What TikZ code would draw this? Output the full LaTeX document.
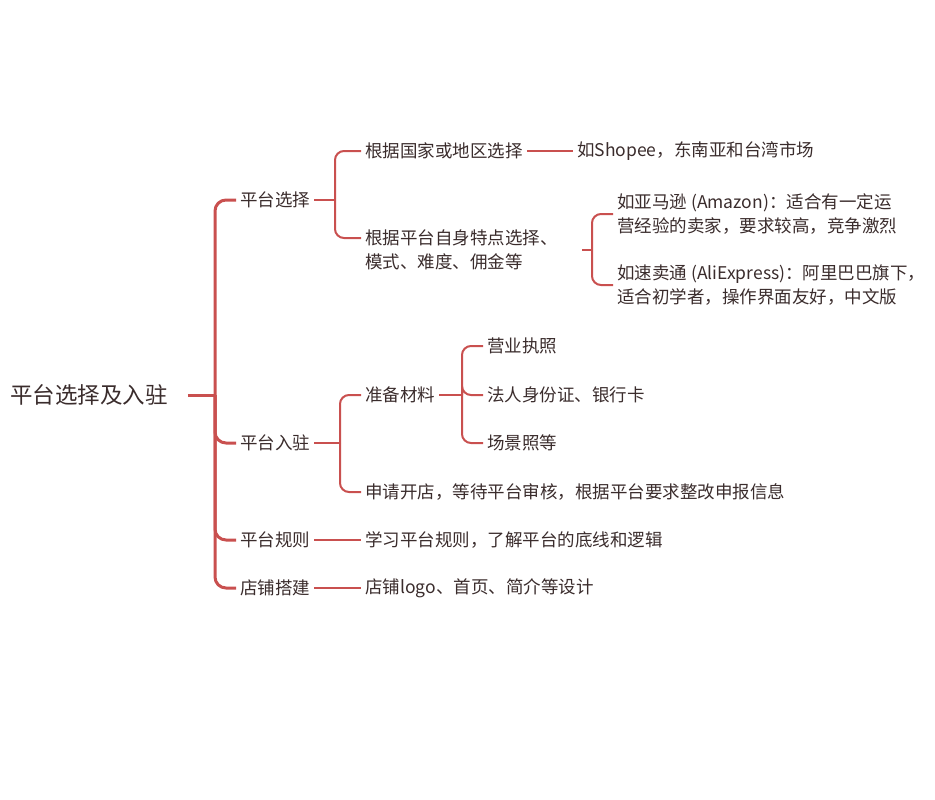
\documentclass[tikz,border=0pt]{standalone}
\usepackage{fontspec}
\setmainfont{Noto Sans CJK SC}
\usetikzlibrary{positioning}
\definecolor{linered}{HTML}{C9504F}
\definecolor{txt}{HTML}{3A2C2C}
\begin{document}
\begin{tikzpicture}[x=1pt, y=-1pt, font=\fontsize{17.5}{24}\selectfont, text=txt,
    item/.style={anchor=west, inner xsep=4pt, inner ysep=1pt, align=left},
    link/.style={draw=linered, line width=2pt, rounded corners=9pt},
    trunk/.style={draw=linered, line width=3pt, rounded corners=11pt}]
    \useasboundingbox (0,0) rectangle (935,800);
    % Root
    \node[anchor=west, inner sep=0pt, font=\fontsize{22.5}{24}\selectfont] (root) at (10,395) {平台选择及入驻};
    % Level 1
    \node[item] (xz) at (236,200) {平台选择};
    \node[item] (rz) at (236,443) {平台入驻};
    \node[item] (gz) at (236,540) {平台规则};
    \node[item] (dp) at (236,588) {店铺搭建};
    % Level 2
    \node[item] (gj) at (361,151) {根据国家或地区选择};
    \node[item] (td) at (361,250) {根据平台自身特点选择、\\模式、难度、佣金等};
    \node[item] (cl) at (361,395) {准备材料};
    \node[item] (sq) at (361,492) {申请开店，等待平台审核，根据平台要求整改申报信息};
    \node[item] (xx) at (361,540) {学习平台规则，了解平台的底线和逻辑};
    \node[item] (sj) at (361,588) {店铺logo、首页、简介等设计};
    % Level 3
    \node[item] (sp) at (573,151) {如Shopee，东南亚和台湾市场};
    \node[item] (ama) at (613,214) {如亚马逊 (Amazon)：适合有一定运\\营经验的卖家，要求较高，竞争激烈};
    \node[item] (ali) at (613,285) {如速卖通 (AliExpress)：阿里巴巴旗下，\\适合初学者，操作界面友好，中文版};
    \node[item] (yy) at (483,346) {营业执照};
    \node[item] (fr) at (483,395) {法人身份证、银行卡};
    \node[item] (cj) at (483,443) {场景照等};
    % Junctions
    \coordinate (j0) at (215,395);
    \coordinate (j1) at (335,200);
    \coordinate (j2) at (340,443);
    \coordinate (j3) at (592,250);
    \coordinate (j4) at (462,395);
    \coordinate (tdtop) at (td.west |- 0,238);
    \coordinate (tdout) at (582,250);
    % Connectors
    \draw[trunk] ([xshift=20pt]root.east) -- (j0);
    \foreach \c in {xz,rz,gz,dp} \draw[trunk] (j0) |- (\c.west);
    \draw[link] (xz.east) -- (j1);
    \draw[link] (j1) |- (gj.west);
    \draw[link] (j1) |- (tdtop);
    \draw[link] (rz.east) -- (j2);
    \foreach \c in {cl,sq} \draw[link] (j2) |- (\c.west);
    \draw[link] (gz.east) -- (xx.west);
    \draw[link] (dp.east) -- (sj.west);
    \draw[link] (gj.east) -- (sp.west);
    \draw[link] (tdout) -- (j3);
    \foreach \c in {ama,ali} \draw[link] (j3) |- (\c.west);
    \draw[link] (cl.east) -- (j4);
    \foreach \c in {yy,fr,cj} \draw[link] (j4) |- (\c.west);
\end{tikzpicture}
\end{document}
